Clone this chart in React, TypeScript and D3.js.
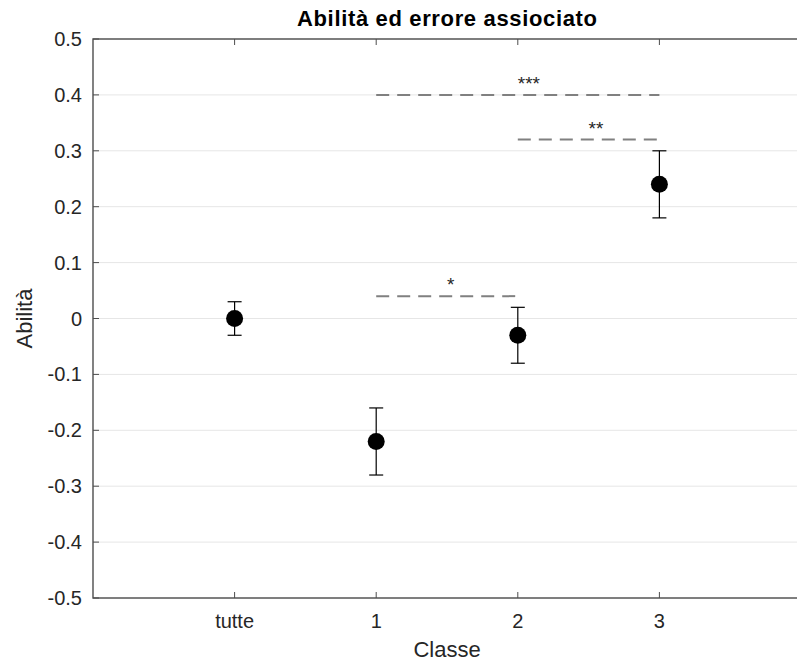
import { useEffect, useRef } from "react"
import * as d3 from "d3"

// categories on the x axis (positions 1..4)
const categories = ["tutte", "1", "2", "3"]
const abilita = [0, -0.22, -0.03, 0.24]
const errore = [0.03, 0.06, 0.05, 0.06]

// significance brackets: from / to (category index), height, label
const sigFrom = [1, 1, 2]
const sigTo = [2, 3, 3]
const sigY = [0.04, 0.4, 0.32]
const sigLabel = ["*", "***", "**"]

const yTicks = [-0.5, -0.4, -0.3, -0.2, -0.1, 0, 0.1, 0.2, 0.3, 0.4, 0.5]

export default function App() {
  const svgRef = useRef<SVGSVGElement>(null)

  useEffect(() => {
    if (!svgRef.current) return
    const svg = d3.select(svgRef.current)
    svg.selectAll("*").remove()

    const width = 797
    const height = 663
    const margin = { top: 39, right: -4, bottom: 65, left: 93 }
    const font = "Arial, 'Liberation Sans', Helvetica, sans-serif"
    const axisColor = "#262626"

    const x = d3.scaleLinear().domain([0, 5]).range([margin.left, width - margin.right])
    const y = d3.scaleLinear().domain([-0.5, 0.5]).range([height - margin.bottom, margin.top])

    svg.append("rect").attr("width", width).attr("height", height).attr("fill", "white")

    // grid
    svg.append("g")
      .selectAll("line")
      .data(yTicks)
      .join("line")
      .attr("x1", x(0))
      .attr("x2", x(5))
      .attr("y1", (d) => y(d))
      .attr("y2", (d) => y(d))
      .attr("stroke", "#e6e6e6")
      .attr("stroke-width", 1)

    // box
    svg.append("rect")
      .attr("x", x(0))
      .attr("y", y(0.5))
      .attr("width", x(5) - x(0))
      .attr("height", y(-0.5) - y(0.5))
      .attr("fill", "none")
      .attr("stroke", "#4d4d4d")
      .attr("stroke-width", 1.4)

    // y ticks + labels
    const yt = svg.append("g")
    yt.selectAll("line")
      .data(yTicks)
      .join("line")
      .attr("x1", x(0))
      .attr("x2", x(0) + 6)
      .attr("y1", (d) => y(d))
      .attr("y2", (d) => y(d))
      .attr("stroke", "#4d4d4d")
    yt.selectAll("text")
      .data(yTicks)
      .join("text")
      .attr("x", x(0) - 11)
      .attr("y", (d) => y(d))
      .attr("dy", "0.35em")
      .attr("text-anchor", "end")
      .attr("font-family", font)
      .attr("font-size", 20)
      .attr("fill", axisColor)
      .text((d) => (d === 0 ? "0" : d.toFixed(1)))

    // x ticks (bottom and top) + labels
    const xt = svg.append("g")
    categories.forEach((c, i) => {
      const px = x(i + 1)
      xt.append("line").attr("x1", px).attr("x2", px).attr("y1", y(-0.5)).attr("y2", y(-0.5) - 6).attr("stroke", "#4d4d4d")
      xt.append("line").attr("x1", px).attr("x2", px).attr("y1", y(0.5)).attr("y2", y(0.5) + 6).attr("stroke", "#4d4d4d")
      xt.append("text")
        .attr("x", px)
        .attr("y", 628)
        .attr("text-anchor", "middle")
        .attr("font-family", font)
        .attr("font-size", 20)
        .attr("fill", axisColor)
        .text(c)
    })

    // significance dashed lines
    const sig = svg.append("g")
    sigY.forEach((v, i) => {
      const x1 = x(sigFrom[i] + 1)
      const x2 = x(sigTo[i] + 1)
      sig.append("line")
        .attr("x1", x1)
        .attr("x2", x2)
        .attr("y1", y(v))
        .attr("y2", y(v))
        .attr("stroke", "#808080")
        .attr("stroke-width", 2)
        .attr("stroke-dasharray", "13,8")
      // label starts at the midpoint (left aligned)
      sig.append("text")
        .attr("x", (x1 + x2) / 2)
        .attr("y", y(v) - 5)
        .attr("text-anchor", "start")
        .attr("font-family", font)
        .attr("font-size", 19)
        .attr("fill", axisColor)
        .text(sigLabel[i])
    })

    // error bars
    const eb = svg.append("g")
    abilita.forEach((v, i) => {
      const px = x(i + 1)
      const lo = y(v - errore[i])
      const hi = y(v + errore[i])
      eb.append("line").attr("x1", px).attr("x2", px).attr("y1", lo).attr("y2", hi).attr("stroke", "black").attr("stroke-width", 1.2)
      eb.append("line").attr("x1", px - 7).attr("x2", px + 7).attr("y1", lo).attr("y2", lo).attr("stroke", "black").attr("stroke-width", 1.2)
      eb.append("line").attr("x1", px - 7).attr("x2", px + 7).attr("y1", hi).attr("y2", hi).attr("stroke", "black").attr("stroke-width", 1.2)
      eb.append("circle").attr("cx", px).attr("cy", y(v)).attr("r", 8.5).attr("fill", "black")
    })

    // title and axis labels
    svg.append("text")
      .attr("x", (x(0) + x(5)) / 2)
      .attr("y", 26)
      .attr("text-anchor", "middle")
      .attr("font-family", font)
      .attr("font-size", 22)
      .attr("font-weight", "bold")
      .attr("fill", "black")
      .attr("textLength", 300)
      .attr("lengthAdjust", "spacing")
      .text("Abilità ed errore assiociato")

    svg.append("text")
      .attr("x", (x(0) + x(5)) / 2)
      .attr("y", 657)
      .attr("text-anchor", "middle")
      .attr("font-family", font)
      .attr("font-size", 22)
      .attr("fill", axisColor)
      .text("Classe")

    svg.append("text")
      .attr("transform", `translate(32, ${(y(0.5) + y(-0.5)) / 2}) rotate(-90)`)
      .attr("text-anchor", "middle")
      .attr("font-family", font)
      .attr("font-size", 22)
      .attr("fill", axisColor)
      .text("Abilità")
  }, [])

  return (
    <svg
      ref={svgRef}
      width={797}
      height={663}
      style={{ position: "absolute", left: 0, top: 0, display: "block" }}
    />
  )
}
